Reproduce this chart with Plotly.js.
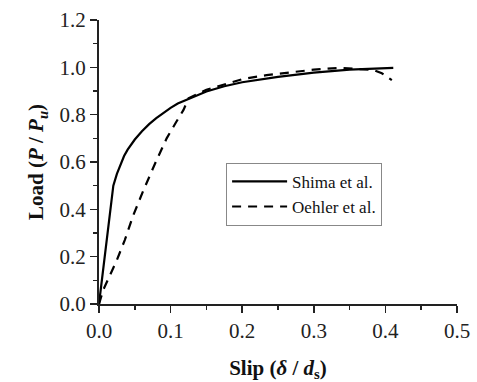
<!DOCTYPE html>
<html><head><meta charset="utf-8">
<script src="https://cdn.plot.ly/plotly-3.0.1.min.js"></script>
<style>html,body{margin:0;padding:0;background:#fff;}#chart{width:477px;height:382px;}</style>
</head><body><div id="chart"></div>
<script>
var shimaSlip = [0, 0.018, 0.02, 0.025, 0.03, 0.035, 0.04, 0.045, 0.05, 0.06, 0.07, 0.08, 0.09, 0.1, 0.11, 0.122, 0.135, 0.15, 0.175, 0.2, 0.25, 0.3, 0.35, 0.411];
var shimaLoad = [0, 0.47, 0.50, 0.55, 0.59, 0.625, 0.652, 0.675, 0.695, 0.73, 0.76, 0.785, 0.808, 0.829, 0.847, 0.863, 0.881, 0.898, 0.92, 0.937, 0.96, 0.978, 0.99, 0.998];
var oehlerSlip = [0, 0.006, 0.025, 0.036, 0.048, 0.062, 0.08, 0.0945, 0.108, 0.118, 0.125, 0.15, 0.2, 0.234, 0.3, 0.336, 0.383, 0.395, 0.409];
var oehlerLoad = [0, 0.06, 0.186, 0.27, 0.376, 0.48, 0.605, 0.70, 0.77, 0.82, 0.869, 0.905, 0.95, 0.967, 0.99, 0.998, 0.989, 0.975, 0.946];
var xTicks = [0, 0.1, 0.2, 0.3, 0.4, 0.5];
var yTicks = [0, 0.2, 0.4, 0.6, 0.8, 1.0, 1.2];

var font = 'Times New Roman, Liberation Serif, serif';
var traces = [
  {x: shimaSlip, y: shimaLoad, mode: 'lines', name: 'Shima et al.', line: {color: '#000', width: 2.2}},
  {x: oehlerSlip, y: oehlerLoad, mode: 'lines', name: 'Oehler et al.', line: {color: '#000', width: 2.2, dash: '9px,7px'}}
];
var layout = {
  width: 477, height: 382,
  margin: {l: 99, r: 20, t: 20, b: 78},
  paper_bgcolor: '#fff', plot_bgcolor: '#fff',
  font: {family: font, color: '#222', size: 20},
  showlegend: true,
  legend: {x: 0.355, y: 0.497, xanchor: 'left', yanchor: 'top', bordercolor: '#888', borderwidth: 1,
           bgcolor: '#fff', font: {family: font, size: 17, color: '#111'}, tracegroupgap: 0, itemwidth: 55},
  xaxis: {range: [0, 0.5], tickvals: xTicks, ticktext: xTicks.map(function(v){return v.toFixed(1);}),
          showgrid: false, zeroline: false, showline: true, linecolor: '#222', linewidth: 2,
          ticks: 'outside', ticklen: 7, tickwidth: 1.5, tickcolor: '#222',
          minor: {dtick: 0.05, ticks: 'outside', ticklen: 4, tickwidth: 1.5, tickcolor: '#222', showgrid: false},
          tickfont: {family: font, size: 21, color: '#222'},
          title: {text: '<b>Slip (<i>δ</i> / <i>d</i><sub>s</sub>)</b>', font: {family: font, size: 21, color: '#111'}, standoff: 18}},
  yaxis: {range: [0, 1.2], tickvals: yTicks, ticktext: yTicks.map(function(v){return v.toFixed(1);}),
          showgrid: false, zeroline: false, showline: true, linecolor: '#222', linewidth: 2,
          ticks: 'outside', ticklen: 7, tickwidth: 1.5, tickcolor: '#222',
          minor: {dtick: 0.1, ticks: 'outside', ticklen: 4, tickwidth: 1.5, tickcolor: '#222', showgrid: false},
          tickfont: {family: font, size: 21, color: '#222'},
          title: {text: '<b>Load (<i>P</i> / <i>P</i><sub><i>u</i></sub>)</b>', font: {family: font, size: 21, color: '#111'}, standoff: 10}}
};
Plotly.newPlot('chart', traces, layout, {displayModeBar: false, staticPlot: true});
</script></body></html>
